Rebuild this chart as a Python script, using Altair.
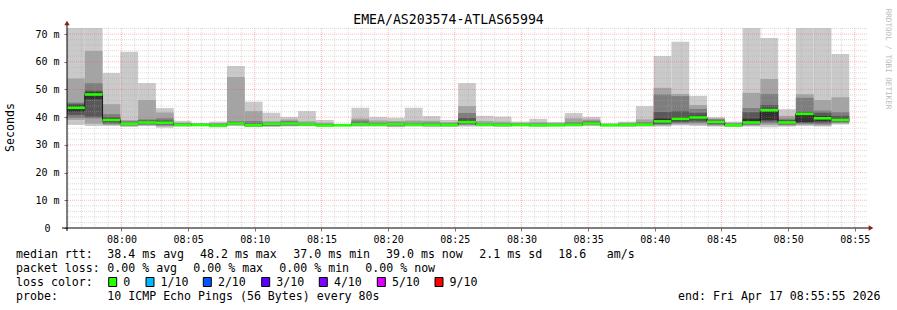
import altair as alt
import pandas as pd

# ---------------- data ----------------
TITLE = "EMEA/AS203574-ATLAS65994"
Y_TITLE = "Seconds"
WATERMARK = "RRDTOOL / TOBI OETIKER"

window_start = "07:55:55"
window_seconds = 3600
step_seconds = 80

# ten sorted ping round-trip times (ms) per 80 s step, lowest to highest
ping1 = [37.2, 36.8, 36.8, 36.5, 36.8, 36.2, 36.6, 36.7, 36.3, 36.8, 36.4, 36.5, 36.6, 36.7, 36.6, 36.7, 36.6, 36.6, 36.4, 36.6, 36.4, 36.5,
         36.6, 36.6, 36.5, 36.7, 36.6, 36.7, 36.6, 36.8, 36.7, 36.6, 36.6, 36.6, 37.0, 36.8, 36.6, 36.5, 36.6, 36.4, 36.6, 36.8, 36.6, 37.4]
ping2 = [39.0, 37.6, 37.2, 36.8, 37.0, 36.7, 36.8, 36.8, 36.6, 37.0, 36.6, 36.7, 36.8, 36.9, 36.8, 36.8, 36.8, 36.8, 36.6, 36.8, 36.7, 36.7,
         37.0, 36.8, 36.7, 36.8, 36.7, 36.8, 36.8, 37.0, 36.8, 36.7, 36.8, 37.0, 37.4, 37.3, 36.9, 36.6, 36.9, 37.2, 36.9, 37.2, 37.0, 37.7]
ping3 = [39.8, 39.6, 37.5, 37.0, 37.3, 37.0, 36.9, 36.9, 36.8, 37.2, 36.7, 36.9, 37.0, 37.0, 36.9, 36.9, 37.0, 36.9, 36.9, 37.0, 36.9, 36.8,
         37.3, 37.0, 36.9, 36.9, 36.8, 36.9, 36.9, 37.2, 36.9, 36.8, 36.9, 37.3, 37.8, 37.9, 37.2, 36.8, 37.2, 37.8, 37.2, 37.6, 37.4, 38.0]
ping4 = [40.8, 40.2, 38.0, 37.3, 37.6, 37.4, 37.0, 37.0, 36.9, 37.4, 36.8, 37.1, 37.3, 37.2, 37.0, 37.0, 37.2, 37.1, 37.2, 37.1, 37.1, 37.0,
         37.6, 37.1, 37.0, 37.0, 36.9, 37.0, 37.0, 37.4, 37.0, 36.9, 37.0, 37.6, 38.2, 38.5, 37.6, 36.9, 37.6, 38.5, 37.6, 37.9, 37.9, 38.4]
ping5 = [42.0, 46.5, 38.5, 37.5, 37.9, 37.8, 37.1, 37.1, 37.0, 37.6, 37.0, 37.4, 37.5, 37.3, 37.0, 37.1, 37.3, 37.2, 37.4, 37.2, 37.2, 37.1,
         37.9, 37.2, 37.1, 37.1, 37.0, 37.0, 37.2, 37.6, 37.0, 37.0, 37.1, 38.0, 38.8, 39.3, 37.9, 37.0, 38.0, 39.0, 37.9, 38.2, 38.6, 38.8]
ping6 = [44.2, 49.0, 39.5, 37.8, 38.4, 38.3, 37.4, 37.3, 37.1, 37.9, 37.3, 37.7, 37.8, 37.5, 37.1, 37.2, 37.5, 37.4, 37.6, 37.4, 37.4, 37.3,
         38.5, 37.4, 37.3, 37.3, 37.2, 37.2, 37.4, 37.8, 37.2, 37.2, 37.3, 39.5, 40.0, 40.5, 38.5, 37.2, 39.5, 42.8, 38.4, 41.6, 40.4, 39.4]
ping7 = [44.8, 49.6, 40.0, 38.0, 38.8, 38.8, 37.6, 37.4, 37.3, 38.2, 37.6, 37.9, 38.1, 37.7, 37.3, 37.3, 38.0, 37.7, 37.9, 37.6, 37.7, 37.5,
         39.7, 37.6, 37.5, 37.5, 37.4, 37.4, 37.7, 38.2, 37.3, 37.4, 37.6, 41.9, 42.2, 41.6, 38.9, 37.4, 41.8, 44.4, 39.0, 42.0, 41.6, 40.5]
ping8 = [45.3, 52.3, 41.1, 38.5, 39.2, 39.6, 37.8, 37.6, 37.6, 38.5, 38.6, 38.2, 38.6, 38.0, 37.6, 37.4, 38.8, 38.0, 38.2, 38.0, 38.1, 37.8,
         41.5, 37.9, 37.8, 37.7, 37.7, 37.6, 38.2, 38.7, 37.5, 37.7, 38.2, 48.2, 47.6, 43.0, 39.3, 37.7, 43.3, 48.4, 39.5, 47.0, 42.4, 41.8]
ping9 = [54.0, 63.9, 44.7, 39.0, 46.2, 41.7, 38.0, 37.7, 37.9, 54.5, 42.2, 38.5, 39.2, 38.5, 38.0, 37.5, 39.5, 38.8, 38.6, 38.8, 38.7, 38.2,
         44.0, 38.6, 38.4, 38.0, 38.2, 37.9, 39.6, 39.2, 37.7, 38.0, 39.2, 50.6, 48.4, 44.4, 39.6, 38.0, 48.8, 53.8, 40.5, 48.3, 46.2, 47.2]
ping10 = [72.2, 72.2, 56.0, 63.6, 52.3, 43.3, 38.7, 37.9, 38.4, 58.5, 45.6, 41.6, 40.1, 42.2, 39.0, 37.6, 43.4, 40.1, 39.8, 43.4, 40.4, 39.0,
          52.3, 40.5, 40.2, 38.4, 39.4, 38.3, 41.5, 40.1, 37.8, 38.4, 44.0, 62.1, 67.2, 47.7, 40.0, 38.4, 72.2, 68.6, 42.9, 72.2, 72.2, 62.8]
median_rtt = [43.4, 48.2, 39.0, 37.6, 38.1, 38.0, 37.2, 37.2, 37.0, 37.7, 37.1, 37.6, 37.7, 37.4, 37.0, 37.1, 37.4, 37.3, 37.5, 37.3, 37.3, 37.2,
              38.2, 37.3, 37.2, 37.2, 37.1, 37.1, 37.3, 37.7, 37.1, 37.2, 37.3, 38.5, 39.4, 39.9, 38.3, 37.1, 38.1, 42.5, 38.1, 41.2, 39.6, 39.0]

x_tick_labels = ["08:00", "08:05", "08:10", "08:15", "08:20", "08:25", "08:30", "08:35", "08:40", "08:45", "08:50", "08:55"]
y_tick_values = [0, 10, 20, 30, 40, 50, 60, 70]
y_tick_labels = ["0", "10 m", "20 m", "30 m", "40 m", "50 m", "60 m", "70 m"]
y_upper = 72.2

stats_rtt = ["median rtt:", "38.4 ms avg", "48.2 ms max", "37.0 ms min", "39.0 ms now", "2.1 ms sd", "18.6", "am/s"]
stats_loss = ["packet loss:", "0.00 % avg", "0.00 % max", "0.00 % min", "0.00 % now"]
loss_title = "loss color:"
loss_names = ["0", "1/10", "2/10", "3/10", "4/10", "5/10", "9/10"]
loss_colors = ["#26ff00", "#00b8ff", "#0059ff", "#5e00ff", "#7e00ff", "#dd00ff", "#ff0000"]
probe_row = ["probe:", "10 ICMP Echo Pings (56 Bytes) every 80s"]
end_text = "end: Fri Apr 17 08:55:55 2026"
smoke_grays = ["#cacaca", "#a4a4a4", "#7e7e7e", "#585858", "#323232"]

# ---------------- layout / styles ----------------
FONT = "DejaVu Sans Mono"
W, H = 800, 200
PX_LEFT, PX_TOP = 67, 28   # plot origin in page pixels


def px(x):
    return x - PX_LEFT


def py(y):
    return y - PX_TOP


# ---------------- derived tables ----------------
h0, m0, s0 = (int(v) for v in window_start.split(":"))
start_sec = h0 * 3600 + m0 * 60 + s0

pings = [ping1, ping2, ping3, ping4, ping5, ping6, ping7, ping8, ping9, ping10]
n = len(median_rtt)
band_rows = []
for k in range(n):
    t0 = k * step_seconds
    for b in range(5):
        band_rows.append({"t0": t0, "t1": t0 + step_seconds, "lo": pings[b][k], "hi": pings[9 - b][k], "band": b + 1})
bands = pd.DataFrame(band_rows)

med = pd.DataFrame({"t0": [k * step_seconds for k in range(n)],
                    "t1": [(k + 1) * step_seconds for k in range(n)],
                    "m": median_rtt})
step_pts = pd.DataFrame({"t": list(med["t0"]) + [n * step_seconds],
                         "m": median_rtt + [median_rtt[-1]]})


def tick_sec(lbl):
    hh, mm = (int(v) for v in lbl.split(":"))
    return hh * 3600 + mm * 60 - start_sec


x_tick_pos = [tick_sec(l) for l in x_tick_labels]
minute0 = ((start_sec + 59) // 60) * 60 - start_sec
minor_x = [t for t in range(minute0, window_seconds + 1, 60) if t not in x_tick_pos]
minor_y = [v for v in range(2, int(y_upper) + 1, 2) if v % 10 != 0]
major_y = [v for v in y_tick_values if v > 0]

xscale = alt.Scale(domain=[0, window_seconds], nice=False, zero=False)
yscale = alt.Scale(domain=[0, y_upper], nice=False, zero=True)

x_label_expr = "[" + ",".join("'%s'" % l for l in x_tick_labels) + "][round((datum.value-%d)/300)]" % x_tick_pos[0]
y_label_expr = "[" + ",".join("'%s'" % l for l in y_tick_labels) + "][round(datum.value/10)]"

XAXIS = alt.Axis(values=x_tick_pos, labelExpr=x_label_expr, grid=False, domain=False,
                 tickSize=3, tickColor="#777777", labelPadding=3, labelFont=FONT,
                 labelFontSize=10, labelColor="#000000", title=None)
YAXIS = alt.Axis(values=y_tick_values, labelExpr=y_label_expr, grid=False, domain=False,
                 tickSize=3, tickColor="#777777", labelAlign="center", labelBaseline="middle",
                 labelPadding=17, labelFont=FONT, labelFontSize=10, labelColor="#000000", title=None)


def X(field):
    return alt.X(field, scale=xscale, axis=XAXIS)


def Y(field):
    return alt.Y(field, scale=yscale, axis=YAXIS)


smoke = alt.Chart(bands).mark_rect(clip=True, strokeWidth=0).encode(
    x=X("t0:Q"), x2="t1:Q", y=Y("lo:Q"), y2="hi:Q",
    color=alt.Color("band:O", scale=alt.Scale(domain=[1, 2, 3, 4, 5], range=smoke_grays), legend=None),
    order=alt.Order("band:O"),
)

MINOR = dict(color="#a8a8a8", opacity=0.4, strokeDash=[1, 1], strokeWidth=1)
MAJOR = dict(color="#ff5050", opacity=0.4, strokeDash=[1, 1], strokeWidth=1)
grid_minor_y = alt.Chart(pd.DataFrame({"v": minor_y})).mark_rule(**MINOR).encode(y=Y("v:Q"))
grid_minor_x = alt.Chart(pd.DataFrame({"v": minor_x})).mark_rule(**MINOR).encode(x=X("v:Q"))
grid_major_y = alt.Chart(pd.DataFrame({"v": major_y})).mark_rule(**MAJOR).encode(y=Y("v:Q"))
grid_major_x = alt.Chart(pd.DataFrame({"v": x_tick_pos})).mark_rule(**MAJOR).encode(x=X("v:Q"))

step_line = alt.Chart(step_pts).mark_line(interpolate="step-after", color="#1a1a1a", strokeWidth=1).encode(
    x=X("t:Q"), y=Y("m:Q"))
median_line = alt.Chart(med).mark_rule(color=loss_colors[0], strokeWidth=2.6).encode(
    x=X("t0:Q"), x2="t1:Q", y=Y("m:Q"))

one = pd.DataFrame({"a": [0]})


def rule(x1, x2, y1, y2, color="#000000", w=1):
    return alt.Chart(one).mark_rule(color=color, strokeWidth=w).encode(
        x=alt.value(x1), x2=alt.value(x2), y=alt.value(y1), y2=alt.value(y2))


def txt(s, x, y, size=11.6, align="left", baseline="alphabetic", color="#000000", angle=0):
    return alt.Chart(one).mark_text(text=s, font=FONT, fontSize=size, align=align, baseline=baseline,
                                    color=color, angle=angle).encode(x=alt.value(x), y=alt.value(y))


decor = [
    rule(px(62), px(869), H, H),          # x axis line
    rule(0, 0, H + 3, py(24)),            # y axis line
    alt.Chart(one).mark_point(shape="triangle-right", filled=True, color="#8b1a1a", size=28, opacity=1).encode(
        x=alt.value(px(871)), y=alt.value(H)),
    alt.Chart(one).mark_point(shape="triangle-up", filled=True, color="#8b1a1a", size=28, opacity=1).encode(
        x=alt.value(0), y=alt.value(py(23))),
    txt(TITLE, px(448.5), py(24), size=13.2, align="center"),
    txt(Y_TITLE, px(10.5), py(127.5), size=11.6, align="center", baseline="middle", angle=270),
    txt(WATERMARK, px(888), py(59), size=7.6, align="center", baseline="middle", color="#bbbbbb", angle=90),
]

rtt_x = [16, 107.3, 200, 293.3, 386, 479.3, 558.3, 606.7]
for s, x in zip(stats_rtt, rtt_x):
    decor.append(txt(s, px(x), py(258.3)))
loss_x = [16, 107.3, 193.3, 279.3, 365.3]
for s, x in zip(stats_loss, loss_x):
    decor.append(txt(s, px(x), py(271.8)))
decor.append(txt(loss_title, px(16), py(286)))
box_x = [108.7, 146.0, 203.3, 261.7, 319.3, 377.3, 435.0]
for name, col, bx in zip(loss_names, loss_colors, box_x):
    decor.append(alt.Chart(one).mark_rect(color=col, stroke="#000000", strokeWidth=1).encode(
        x=alt.value(px(bx)), x2=alt.value(px(bx + 8)), y=alt.value(py(277.5)), y2=alt.value(py(286.5))))
    decor.append(txt(name, px(bx + 14.6), py(286)))
decor.append(txt(probe_row[0], px(16), py(299.5)))
decor.append(txt(probe_row[1], px(107.3), py(299.5)))
decor.append(txt(end_text, px(880.5), py(300), align="right"))

chart = alt.layer(smoke, grid_minor_y, grid_minor_x, grid_major_y, grid_major_x, step_line, median_line, *decor).properties(
    width=W, height=H,
    autosize=alt.AutoSizeParams(type="none"),
    padding={"left": PX_LEFT, "top": PX_TOP, "right": 897 - PX_LEFT - W, "bottom": 310 - PX_TOP - H},
    background="#ffffff",
).configure_view(stroke=None)

chart.save("out.html", embed_options={"renderer": "svg", "actions": False})
